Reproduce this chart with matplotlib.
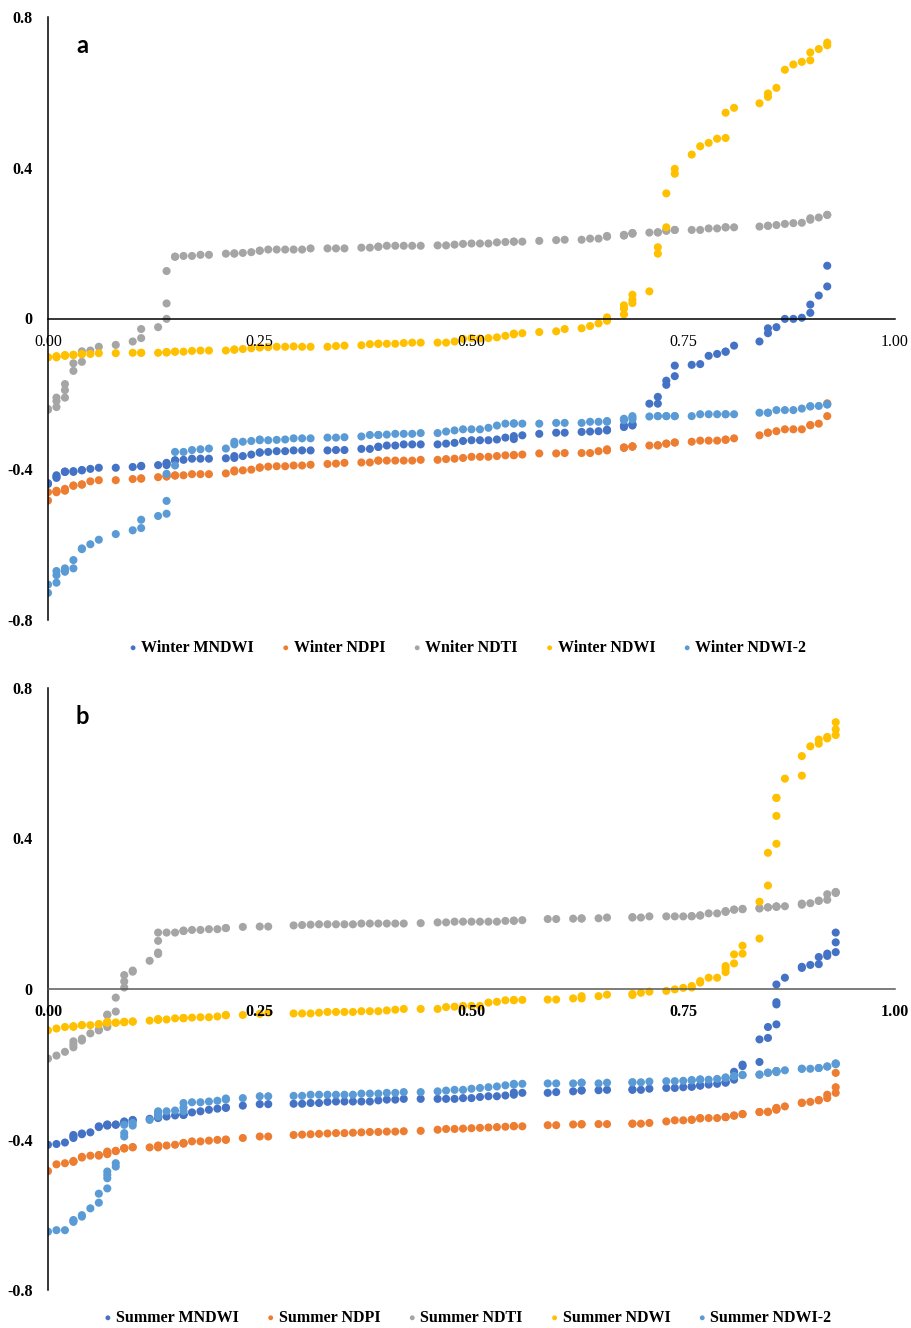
import numpy as np
import matplotlib
matplotlib.use("Agg")
import matplotlib.pyplot as plt

plt.rcParams['font.family'] = ['Liberation Serif', 'DejaVu Serif']

# ---- Winter data (panel a) ----
# x in percent, repeated where several samples share the same x
winter_x = [0, 0, 1, 1, 1, 2, 2, 2, 3, 3,
            4, 4, 5, 6, 8, 10, 11, 11, 13, 14,
            14, 14, 15, 15, 16, 17, 18, 19, 21, 22,
            22, 23, 24, 25, 25, 26, 27, 28, 29, 30,
            31, 33, 34, 35, 37, 38, 39, 39, 40, 41,
            42, 43, 44, 46, 47, 48, 49, 50, 51, 52,
            53, 54, 55, 55, 56, 58, 60, 61, 63, 64,
            65, 66, 66, 68, 68, 68, 69, 69, 69, 71,
            72, 72, 73, 73, 74, 74, 76, 77, 78, 79,
            80, 80, 81, 84, 85, 85, 86, 87, 88, 89,
            90, 90, 91, 92, 92]
winter_mndwi = [-0.439, -0.437, -0.416, -0.423, -0.420, -0.407, -0.407, -0.406, -0.407, -0.405,
                -0.403, -0.402, -0.399, -0.396, -0.396, -0.394, -0.392, -0.391, -0.389, -0.389,
                -0.385, -0.383, -0.377, -0.376, -0.375, -0.372, -0.372, -0.372, -0.371, -0.370,
                -0.365, -0.365, -0.361, -0.356, -0.355, -0.354, -0.352, -0.352, -0.350, -0.350,
                -0.350, -0.350, -0.349, -0.349, -0.346, -0.346, -0.341, -0.340, -0.337, -0.337,
                -0.334, -0.334, -0.334, -0.334, -0.332, -0.330, -0.325, -0.323, -0.323, -0.323,
                -0.321, -0.316, -0.320, -0.312, -0.310, -0.306, -0.303, -0.303, -0.301, -0.300,
                -0.299, -0.297, -0.295, -0.288, -0.286, -0.284, -0.284, -0.282, -0.280, -0.226,
                -0.226, -0.208, -0.176, -0.165, -0.153, -0.125, -0.123, -0.121, -0.099, -0.094,
                -0.088, -0.088, -0.072, -0.061, -0.039, -0.026, -0.023, -0.001, -0.001, 0.002,
                0.015, 0.037, 0.061, 0.085, 0.140]
winter_ndpi = [-0.461, -0.483, -0.457, -0.461, -0.459, -0.452, -0.455, -0.457, -0.444, -0.443,
               -0.441, -0.440, -0.432, -0.429, -0.429, -0.426, -0.425, -0.424, -0.421, -0.419,
               -0.419, -0.418, -0.417, -0.416, -0.416, -0.413, -0.413, -0.413, -0.411, -0.406,
               -0.403, -0.403, -0.401, -0.396, -0.395, -0.393, -0.392, -0.392, -0.390, -0.390,
               -0.388, -0.386, -0.385, -0.383, -0.382, -0.382, -0.377, -0.377, -0.377, -0.377,
               -0.377, -0.377, -0.375, -0.375, -0.373, -0.372, -0.370, -0.367, -0.367, -0.367,
               -0.365, -0.363, -0.363, -0.362, -0.361, -0.358, -0.358, -0.357, -0.357, -0.357,
               -0.352, -0.350, -0.347, -0.343, -0.343, -0.342, -0.340, -0.340, -0.339, -0.337,
               -0.337, -0.336, -0.332, -0.332, -0.329, -0.329, -0.327, -0.324, -0.324, -0.324,
               -0.322, -0.321, -0.318, -0.310, -0.303, -0.303, -0.299, -0.294, -0.294, -0.294,
               -0.283, -0.283, -0.279, -0.259, -0.225]
winter_ndti = [-0.242, -0.240, -0.210, -0.219, -0.235, -0.174, -0.190, -0.210, -0.119, -0.139,
               -0.087, -0.115, -0.085, -0.075, -0.070, -0.061, -0.052, -0.028, -0.023, -0.001,
               0.040, 0.126, 0.164, 0.164, 0.166, 0.166, 0.169, 0.169, 0.172, 0.172,
               0.173, 0.174, 0.176, 0.180, 0.180, 0.183, 0.183, 0.183, 0.183, 0.183,
               0.186, 0.186, 0.186, 0.186, 0.188, 0.188, 0.190, 0.191, 0.193, 0.193,
               0.193, 0.193, 0.193, 0.194, 0.194, 0.196, 0.198, 0.199, 0.199, 0.199,
               0.202, 0.203, 0.204, 0.204, 0.204, 0.206, 0.208, 0.209, 0.209, 0.212,
               0.212, 0.217, 0.219, 0.220, 0.221, 0.222, 0.225, 0.226, 0.227, 0.228,
               0.228, 0.229, 0.233, 0.233, 0.235, 0.235, 0.235, 0.235, 0.239, 0.239,
               0.242, 0.242, 0.242, 0.244, 0.246, 0.246, 0.248, 0.251, 0.253, 0.254,
               0.262, 0.266, 0.268, 0.275, 0.275]
winter_ndwi = [-0.103, -0.103, -0.103, -0.101, -0.100, -0.099, -0.098, -0.097, -0.097, -0.096,
               -0.095, -0.094, -0.094, -0.092, -0.092, -0.091, -0.091, -0.091, -0.091, -0.090,
               -0.090, -0.089, -0.088, -0.088, -0.088, -0.086, -0.085, -0.085, -0.085, -0.083,
               -0.082, -0.081, -0.079, -0.077, -0.076, -0.076, -0.075, -0.075, -0.074, -0.075,
               -0.075, -0.075, -0.073, -0.072, -0.071, -0.068, -0.067, -0.067, -0.067, -0.067,
               -0.065, -0.064, -0.064, -0.064, -0.064, -0.061, -0.054, -0.052, -0.053, -0.052,
               -0.050, -0.046, -0.042, -0.040, -0.039, -0.036, -0.034, -0.028, -0.026, -0.020,
               -0.013, -0.006, 0.003, 0.011, 0.026, 0.035, 0.041, 0.050, 0.063, 0.072,
               0.172, 0.189, 0.242, 0.332, 0.384, 0.397, 0.435, 0.457, 0.466, 0.477,
               0.479, 0.546, 0.559, 0.571, 0.588, 0.597, 0.612, 0.660, 0.674, 0.681,
               0.685, 0.706, 0.715, 0.725, 0.732]
winter_ndwi2 = [-0.706, -0.728, -0.670, -0.681, -0.701, -0.663, -0.672, -0.668, -0.641, -0.663,
                -0.610, -0.612, -0.599, -0.587, -0.572, -0.562, -0.556, -0.534, -0.524, -0.518,
                -0.484, -0.412, -0.390, -0.354, -0.354, -0.349, -0.347, -0.345, -0.345, -0.334,
                -0.327, -0.327, -0.325, -0.323, -0.321, -0.323, -0.322, -0.321, -0.318, -0.318,
                -0.318, -0.316, -0.316, -0.315, -0.313, -0.309, -0.309, -0.309, -0.308, -0.306,
                -0.306, -0.306, -0.304, -0.304, -0.300, -0.297, -0.294, -0.294, -0.294, -0.290,
                -0.284, -0.279, -0.279, -0.278, -0.279, -0.279, -0.277, -0.277, -0.277, -0.274,
                -0.274, -0.274, -0.272, -0.270, -0.268, -0.266, -0.268, -0.263, -0.259, -0.260,
                -0.259, -0.259, -0.259, -0.259, -0.259, -0.259, -0.259, -0.254, -0.254, -0.254,
                -0.254, -0.254, -0.254, -0.250, -0.250, -0.250, -0.243, -0.243, -0.243, -0.239,
                -0.233, -0.233, -0.232, -0.228, -0.228]

# ---- Summer data (panel b) ----
summer_x = [0, 1, 2, 3, 3, 3, 4, 4, 5, 6,
            6, 7, 7, 7, 7, 8, 8, 9, 9, 9,
            10, 10, 12, 13, 13, 13, 13, 14, 15, 16,
            16, 16, 17, 18, 19, 20, 21, 21, 23, 25,
            26, 29, 30, 31, 32, 33, 34, 35, 36, 37,
            38, 39, 40, 41, 42, 44, 46, 47, 48, 49,
            50, 51, 52, 53, 54, 55, 55, 56, 59, 60,
            62, 63, 63, 65, 66, 69, 69, 70, 71, 73,
            74, 75, 76, 76, 77, 77, 78, 79, 80, 80,
            80, 81, 81, 82, 82, 84, 84, 85, 85, 86,
            86, 86, 86, 87, 89, 89, 90, 91, 91, 92,
            92, 93, 93, 93]
summer_mndwi = [-0.414, -0.412, -0.408, -0.396, -0.392, -0.388, -0.386, -0.384, -0.381, -0.367,
                -0.365, -0.363, -0.362, -0.361, -0.360, -0.361, -0.360, -0.357, -0.354, -0.352,
                -0.349, -0.348, -0.345, -0.343, -0.341, -0.340, -0.339, -0.339, -0.336, -0.335,
                -0.334, -0.333, -0.328, -0.325, -0.321, -0.318, -0.316, -0.315, -0.310, -0.306,
                -0.306, -0.305, -0.305, -0.303, -0.303, -0.300, -0.299, -0.299, -0.299, -0.299,
                -0.299, -0.296, -0.294, -0.294, -0.292, -0.292, -0.292, -0.292, -0.292, -0.290,
                -0.290, -0.287, -0.285, -0.285, -0.283, -0.281, -0.275, -0.276, -0.276, -0.274,
                -0.272, -0.270, -0.269, -0.269, -0.268, -0.268, -0.267, -0.268, -0.265, -0.263,
                -0.263, -0.261, -0.260, -0.259, -0.257, -0.256, -0.254, -0.252, -0.249, -0.248,
                -0.247, -0.241, -0.220, -0.205, -0.201, -0.194, -0.134, -0.130, -0.101, -0.094,
                -0.041, -0.035, 0.012, 0.030, 0.056, 0.059, 0.064, 0.066, 0.085, 0.088,
                0.094, 0.098, 0.124, 0.150]
summer_ndpi = [-0.484, -0.466, -0.463, -0.459, -0.459, -0.457, -0.448, -0.446, -0.443, -0.443,
               -0.441, -0.439, -0.437, -0.435, -0.432, -0.431, -0.430, -0.424, -0.423, -0.423,
               -0.421, -0.420, -0.421, -0.421, -0.419, -0.417, -0.416, -0.416, -0.414, -0.411,
               -0.410, -0.409, -0.405, -0.405, -0.403, -0.401, -0.401, -0.400, -0.396, -0.392,
               -0.392, -0.388, -0.387, -0.386, -0.385, -0.384, -0.383, -0.383, -0.382, -0.381,
               -0.380, -0.380, -0.379, -0.379, -0.378, -0.377, -0.374, -0.372, -0.372, -0.371,
               -0.370, -0.369, -0.368, -0.367, -0.366, -0.365, -0.364, -0.365, -0.362, -0.362,
               -0.360, -0.360, -0.359, -0.359, -0.359, -0.358, -0.358, -0.358, -0.356, -0.352,
               -0.349, -0.349, -0.348, -0.347, -0.344, -0.343, -0.343, -0.343, -0.341, -0.340,
               -0.340, -0.337, -0.336, -0.333, -0.332, -0.327, -0.327, -0.327, -0.326, -0.321,
               -0.319, -0.317, -0.316, -0.312, -0.303, -0.302, -0.300, -0.296, -0.295, -0.290,
               -0.281, -0.276, -0.261, -0.223]
summer_ndti = [-0.185, -0.177, -0.167, -0.155, -0.147, -0.139, -0.137, -0.132, -0.118, -0.110,
               -0.108, -0.101, -0.096, -0.069, -0.068, -0.060, -0.023, 0.004, 0.020, 0.037,
               0.046, 0.049, 0.075, 0.093, 0.097, 0.128, 0.150, 0.150, 0.150, 0.154,
               0.155, 0.155, 0.157, 0.157, 0.159, 0.159, 0.162, 0.162, 0.165, 0.166,
               0.166, 0.169, 0.170, 0.171, 0.172, 0.172, 0.172, 0.172, 0.172, 0.174,
               0.174, 0.174, 0.174, 0.174, 0.174, 0.175, 0.177, 0.177, 0.179, 0.179,
               0.179, 0.179, 0.179, 0.179, 0.181, 0.181, 0.182, 0.183, 0.186, 0.186,
               0.187, 0.187, 0.188, 0.188, 0.190, 0.190, 0.191, 0.190, 0.193, 0.193,
               0.193, 0.193, 0.193, 0.194, 0.195, 0.196, 0.201, 0.201, 0.205, 0.206,
               0.207, 0.211, 0.211, 0.212, 0.213, 0.214, 0.215, 0.217, 0.217, 0.219,
               0.219, 0.219, 0.219, 0.220, 0.224, 0.227, 0.228, 0.234, 0.235, 0.237,
               0.252, 0.255, 0.257, 0.258]
summer_ndwi = [-0.110, -0.105, -0.101, -0.100, -0.100, -0.099, -0.096, -0.096, -0.096, -0.094,
               -0.093, -0.090, -0.089, -0.088, -0.087, -0.090, -0.089, -0.088, -0.088, -0.087,
               -0.087, -0.086, -0.084, -0.082, -0.081, -0.081, -0.080, -0.081, -0.078, -0.078,
               -0.077, -0.077, -0.076, -0.075, -0.075, -0.073, -0.070, -0.069, -0.069, -0.066,
               -0.063, -0.065, -0.065, -0.065, -0.063, -0.061, -0.061, -0.061, -0.061, -0.059,
               -0.059, -0.059, -0.057, -0.055, -0.053, -0.053, -0.053, -0.048, -0.047, -0.045,
               -0.045, -0.045, -0.036, -0.034, -0.030, -0.030, -0.029, -0.029, -0.028, -0.028,
               -0.025, -0.025, -0.019, -0.019, -0.015, -0.016, -0.013, -0.010, -0.007, -0.005,
               -0.001, 0.003, 0.004, 0.008, 0.017, 0.021, 0.030, 0.030, 0.045, 0.054,
               0.061, 0.068, 0.092, 0.094, 0.115, 0.134, 0.232, 0.275, 0.362, 0.386,
               0.460, 0.508, 0.508, 0.559, 0.567, 0.619, 0.645, 0.652, 0.663, 0.666,
               0.670, 0.675, 0.690, 0.709]
summer_ndwi2 = [-0.645, -0.641, -0.641, -0.619, -0.616, -0.614, -0.605, -0.601, -0.583, -0.568,
                -0.544, -0.530, -0.503, -0.494, -0.485, -0.472, -0.463, -0.392, -0.383, -0.361,
                -0.363, -0.356, -0.348, -0.339, -0.332, -0.328, -0.325, -0.325, -0.323, -0.325,
                -0.315, -0.303, -0.301, -0.301, -0.299, -0.297, -0.294, -0.291, -0.290, -0.285,
                -0.285, -0.284, -0.284, -0.281, -0.281, -0.281, -0.281, -0.281, -0.281, -0.278,
                -0.278, -0.278, -0.276, -0.276, -0.274, -0.274, -0.272, -0.270, -0.268, -0.268,
                -0.265, -0.263, -0.261, -0.259, -0.256, -0.254, -0.252, -0.252, -0.251, -0.251,
                -0.251, -0.249, -0.249, -0.251, -0.249, -0.248, -0.248, -0.248, -0.246, -0.245,
                -0.245, -0.244, -0.243, -0.242, -0.241, -0.240, -0.241, -0.239, -0.237, -0.236,
                -0.235, -0.232, -0.231, -0.229, -0.228, -0.228, -0.227, -0.223, -0.222, -0.221,
                -0.219, -0.218, -0.218, -0.216, -0.212, -0.212, -0.212, -0.210, -0.210, -0.206,
                -0.206, -0.200, -0.198, -0.198]

index_names = ["MNDWI", "NDPI", "NDTI", "NDWI", "NDWI-2"]
colors = ["#4472C4", "#ED7D31", "#A5A5A5", "#FFC000", "#5B9BD5"]
xticks = [0, 0.25, 0.5, 0.75, 1.0]
xtick_labels = ["0.00", "0.25", "0.50", "0.75", "1.00"]
yticks = [-0.8, -0.4, 0, 0.4, 0.8]
ytick_labels = ["-0.8", "-0.4", "0", "0.4", "0.8"]

W, H = 912, 1328
fig = plt.figure(figsize=(W / 100, H / 100), dpi=100)


def draw_panel(rect, x, series, labels, letter, xbold, spine_color, legend_y):
    ax = fig.add_axes(rect)
    xs = np.array(x) / 100.0
    handles = []
    for ys, lab, col in zip(series, labels, colors):
        h = ax.scatter(xs, ys, s=34, color=col, edgecolors='none', label=lab)
        handles.append(h)
    ax.set_xlim(0, 1.0)
    ax.set_ylim(-0.8, 0.8)
    ax.spines['top'].set_visible(False)
    ax.spines['right'].set_visible(False)
    ax.spines['bottom'].set_position(('data', 0))
    ax.spines['bottom'].set_color(spine_color)
    ax.spines['left'].set_color('black')
    ax.spines['bottom'].set_linewidth(1.1)
    ax.spines['left'].set_linewidth(1.1)
    ax.set_xticks(xticks)
    ax.set_xticklabels(xtick_labels, fontsize=11.5,
                       fontweight='bold' if xbold else 'normal')
    ax.set_yticks(yticks)
    ax.set_yticklabels(ytick_labels, fontsize=11.5, fontweight='bold')
    ax.tick_params(axis='x', length=0, pad=11)
    ax.tick_params(axis='y', length=0, pad=11)
    ax.text(0.040, 0.953, letter, transform=ax.transAxes, ha='center', va='center',
            fontsize=17, fontweight='bold', family=['Lato', 'DejaVu Sans'])
    fig.legend(handles=handles, loc='center', bbox_to_anchor=(0.511, legend_y),
               ncol=5, frameon=False, markerscale=0.6, handletextpad=0.05,
               columnspacing=1.55, handlelength=0.9,
               prop={'family': 'Liberation Serif', 'weight': 'bold', 'size': 11.5})
    return ax


left = 48 / W
width = 847 / W
# panel a: y 0.8 at 17 px, -0.8 at 620 px
draw_panel([left, 1 - 620 / H, width, 603 / H], winter_x,
           [winter_mndwi, winter_ndpi, winter_ndti, winter_ndwi, winter_ndwi2],
           ["Winter MNDWI", "Winter NDPI", "Wniter NDTI", "Winter NDWI", "Winter NDWI-2"],
           "a", False, "black", 1 - 648 / H)
# panel b: y 0.8 at 688 px, -0.8 at 1290 px
draw_panel([left, 1 - 1290 / H, width, 602 / H], summer_x,
           [summer_mndwi, summer_ndpi, summer_ndti, summer_ndwi, summer_ndwi2],
           ["Summer MNDWI", "Summer NDPI", "Summer NDTI", "Summer NDWI", "Summer NDWI-2"],
           "b", True, "#595959", 1 - 1318 / H)

fig.savefig("out.png", dpi=100)
